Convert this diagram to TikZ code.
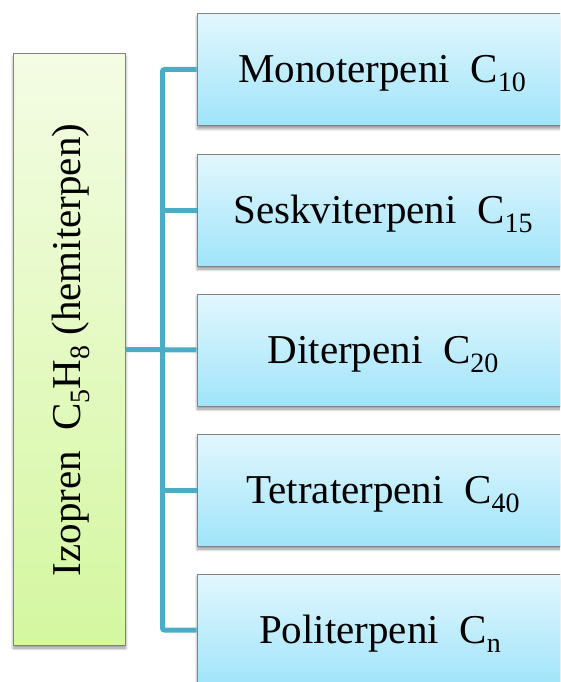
\documentclass[tikz,border=0pt]{standalone}
\usepackage{fontspec}
\setmainfont{Liberation Serif}
\usetikzlibrary{shadows.blur}

% lowered index for chemical formulas
\newcommand{\lowidx}[1]{\raisebox{-9pt}{\fontsize{28pt}{28pt}\selectfont #1}}

\definecolor{linkteal}{RGB}{75,172,198}
\definecolor{framegray}{RGB}{130,130,130}
\definecolor{bluetop}{RGB}{226,247,253}
\definecolor{bluebot}{RGB}{160,228,250}
\definecolor{greentop}{RGB}{244,252,228}
\definecolor{greenbot}{RGB}{212,247,160}

\tikzset{
  basebox/.style={draw=framegray, line width=1pt, rectangle, inner sep=0pt,
    blur shadow={shadow xshift=0.5pt, shadow yshift=-3pt, shadow blur radius=3pt,
      shadow blur steps=6, shadow opacity=45},
    font=\fontsize{41pt}{41pt}\selectfont},
  classbox/.style={basebox, top color=bluetop, bottom color=bluebot,
    minimum width=368pt, minimum height=112pt},
  rootbox/.style={basebox, top color=greentop, bottom color=greenbot,
    minimum width=112pt, minimum height=591pt},
  link/.style={draw=linkteal, line width=5pt}
}

\begin{document}
\begin{tikzpicture}[x=1pt, y=-1pt]
  \useasboundingbox (0,0) rectangle (560,682);
  \begin{scope}
    \clip (0,0) rectangle (560,682);

    % root node
    \node[rootbox] (izo) at (69,349.5) {};
    \node[rotate=90, font=\fontsize{41pt}{41pt}\selectfont] (izotext) at (71,350)
      {Izopren\hspace{0.5em}C\lowidx{5}H\lowidx{8} (hemiterpen)};

    % class boxes
    \node[classbox] (m1) at (381,69.5) {};
    \node[classbox] (m2) at (381,210)  {};
    \node[classbox] (m3) at (381,350)  {};
    \node[classbox] (m4) at (381,490)  {};
    \node[classbox] (m5) at (381,630)  {};

    % connectors
    \coordinate (trunk) at (162.5,350);
    \draw[link, rounded corners=2pt] (m1.west) -- (m1.west -| trunk)
      -- (m5.west -| trunk) -- (m5.west);
    \draw[link] (m2.west) -- (m2.west -| trunk);
    \draw[link] (m4.west) -- (m4.west -| trunk);
    \draw[link] (izo.east) -- (m3.west);

    % labels
    \tikzset{lbl/.style={font=\fontsize{41pt}{41pt}\selectfont, anchor=base}}
    \node[lbl] (t1) at (382,83)  {Monoterpeni\hspace{0.5em}C\lowidx{10}};
    \node[lbl] (t2) at (383,223) {Seskviterpeni\hspace{0.5em}C\lowidx{15}};
    \node[lbl] (t3) at (383,363) {Diterpeni\hspace{0.5em}C\lowidx{20}};
    \node[lbl] (t4) at (383,503) {Tetraterpeni\hspace{0.5em}C\lowidx{40}};
    \node[lbl] (t5) at (380,643) {Politerpeni\hspace{0.5em}C\lowidx{n}};
  \end{scope}
\end{tikzpicture}
\end{document}
